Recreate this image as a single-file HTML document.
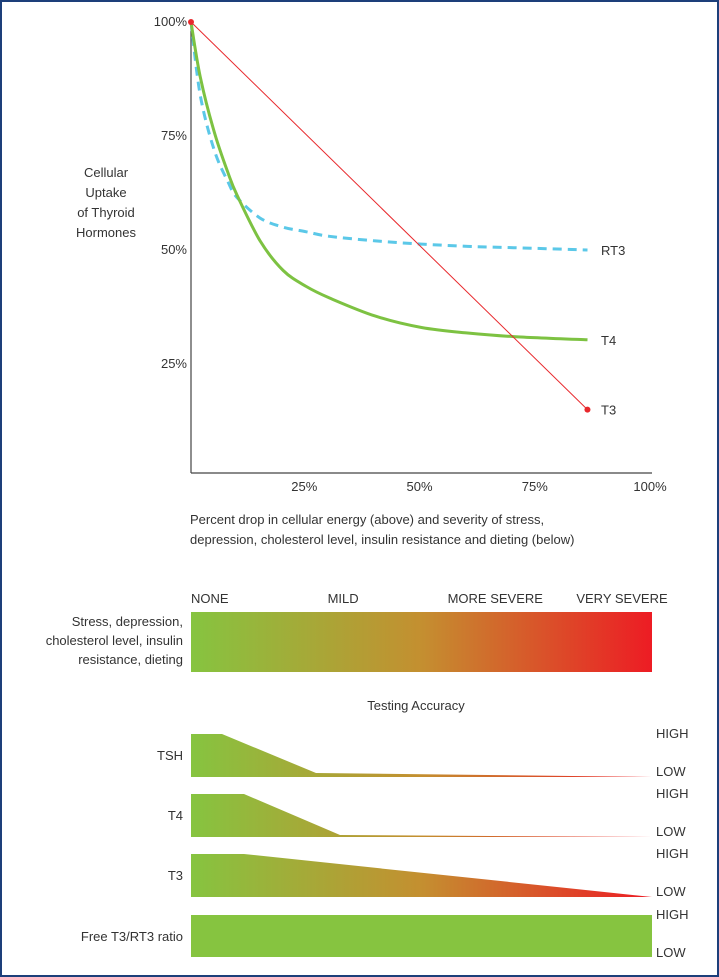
<!DOCTYPE html>
<html><head><meta charset="utf-8"><style>
body{margin:0;background:#fff}
svg{display:block;font-family:"Liberation Sans",sans-serif;fill:#333}
</style></head><body>
<svg id="chart" width="719" height="977">
<defs>
<linearGradient id="sev" x1="191" x2="652" gradientUnits="userSpaceOnUse">
<stop offset="0" stop-color="#86c440"/><stop offset="0.5" stop-color="#c48f30"/><stop offset="1" stop-color="#ed1c24"/></linearGradient>
</defs>
<rect x="1" y="1" width="717" height="975" fill="none" stroke="#1d3f7a" stroke-width="2"/>
<g id="plot"></g>
<g id="bottom"></g>
</svg>
<script>
const xTicks=[25,50,75,100];
const yTicks=[25,50,75,100];
const xs=[0,2,5,8,10,15,20,25,30,40,50,60,70,86];
const t4=[100,88,76,67,62,52,45.5,42,39.5,35.5,33,31.8,31,30.3];
const rt3=[100,84,72,65,61.5,57,55,54,53,52,51.3,50.8,50.5,50];
const t3x=[0,86];
const t3=[100,15];
const sevLabels=['NONE','MILD','MORE SEVERE','VERY SEVERE'];
const sevPos=[0,0.33,0.66,1];
const NS='http://www.w3.org/2000/svg';
const X=v=>191+v*4.61, Y=v=>478-v*4.56;
const g=document.getElementById('plot'), b=document.getElementById('bottom');
function mk(tag,attrs,parent,txt){const e=document.createElementNS(NS,tag);for(const k in attrs)e.setAttribute(k,attrs[k]);if(txt!=null)e.textContent=txt;parent.appendChild(e);return e;}
let e;
e=mk('line',{x1:191,y1:22,x2:191,y2:473,stroke:'#444','stroke-width':1.2},g);


e=mk('line',{x1:191,y1:473,x2:652,y2:473,stroke:'#444','stroke-width':1.2},g);


xTicks.forEach(t=>{e=mk('text',{x:X(t)-2,y:491,'font-size':13,'text-anchor':'middle'},g,t+'%');

});
yTicks.forEach(t=>{e=mk('text',{x:187,y:Y(t)+4,'font-size':13,'text-anchor':'end'},g,t+'%');

});
function smooth(xa,ya){const p=xa.map((x,i)=>[X(x),Y(ya[i])]);let d='M'+p[0][0].toFixed(1)+','+p[0][1].toFixed(1);
for(let i=0;i<p.length-1;i++){const p0=p[Math.max(0,i-1)],p1=p[i],p2=p[i+1],p3=p[Math.min(p.length-1,i+2)];
const c1=[p1[0]+(p2[0]-p0[0])/6,p1[1]+(p2[1]-p0[1])/6],c2=[p2[0]-(p3[0]-p1[0])/6,p2[1]-(p3[1]-p1[1])/6];
d+=' C'+c1.map(v=>v.toFixed(1))+' '+c2.map(v=>v.toFixed(1))+' '+p2.map(v=>v.toFixed(1));}return d;}
e=mk('path',{d:smooth(xs,rt3),fill:'none',stroke:'#5bc8e8','stroke-width':3,'stroke-dasharray':'9,6'},g);


e=mk('path',{d:smooth(xs,t4),fill:'none',stroke:'#7dc242','stroke-width':3,'stroke-linejoin':'round'},g);


e=mk('path',{d:'M'+X(t3x[0])+','+Y(t3[0])+' L'+X(t3x[1])+','+Y(t3[1]),fill:'none',stroke:'#e8282c','stroke-width':1},g);


[0,1].forEach(i=>{e=mk('circle',{cx:X(t3x[i]),cy:Y(t3[i]),r:3,fill:'#e8282c'},g);

});
[['RT3',rt3[rt3.length-1]],['T4',t4[t4.length-1]],['T3',t3[1]]].forEach(([n,v])=>{e=mk('text',{x:601,y:Y(v)+5,'font-size':13},g,n);

});
['Cellular','Uptake','of Thyroid','Hormones'].forEach((s,i)=>{e=mk('text',{x:106,y:177+i*20,'font-size':13,'text-anchor':'middle'},g,s);

});
['Percent drop in cellular energy (above) and severity of stress,','depression, cholesterol level, insulin resistance and dieting (below)'].forEach((s,i)=>{e=mk('text',{x:190,y:524+i*20,'font-size':13},g,s);

});
sevLabels.forEach((s,i)=>{const x=191+sevPos[i]*461;e=mk('text',{x:x+(i==0?0:i==3?-30:0),y:603,'font-size':13,'text-anchor':i==0?'start':'middle'},b,s);

});
e=mk('rect',{x:191,y:612,width:461,height:60,fill:'url(#sev)'},b);


['Stress, depression,','cholesterol level, insulin','resistance, dieting'].forEach((s,i)=>{e=mk('text',{x:183,y:626+i*19,'font-size':13,'text-anchor':'end'},b,s);

});
e=mk('text',{x:416,y:710,'font-size':13,'text-anchor':'middle'},b,'Testing Accuracy');


const rows=[['TSH',734,'M191,734 L222,734 L316,773 L652,777 L191,777Z'],
['T4',794,'M191,794 L244,794 L340,835 L652,837 L191,837Z'],
['T3',854,'M191,854 L244,854 L652,897 L191,897Z'],
['Free T3/RT3 ratio',915,'M191,915 L652,915 L652,957 L191,957Z']];
rows.forEach(([n,y,d],i)=>{e=mk('path',{d:d,fill:i==3?'#86c440':'url(#sev)'},b);


e=mk('text',{x:183,y:y+26,'font-size':13,'text-anchor':'end'},b,n);


e=mk('text',{x:656,y:y+4,'font-size':13},b,'HIGH');


e=mk('text',{x:656,y:y+42,'font-size':13},b,'LOW');

});
</script>
</body></html>
